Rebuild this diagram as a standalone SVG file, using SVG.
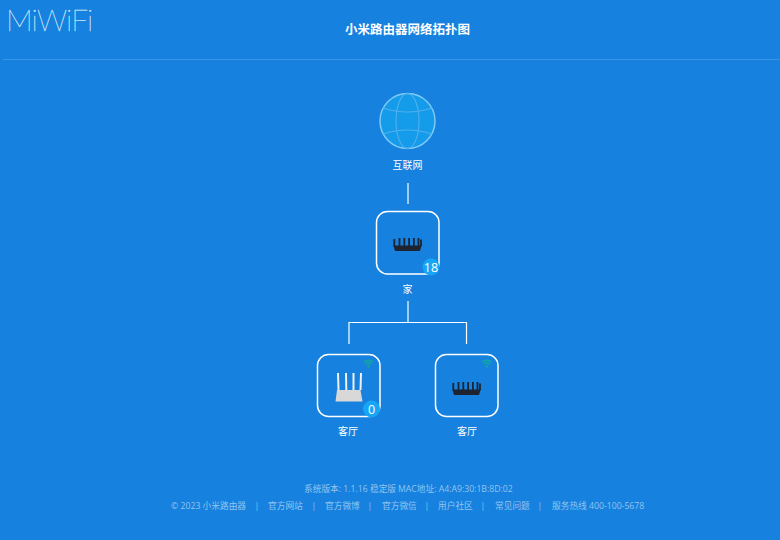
<svg xmlns="http://www.w3.org/2000/svg" width="780" height="540" viewBox="0 0 780 540">
<style>
text{font-family:"Open Sans","Noto Sans CJK SC","Noto Sans",sans-serif}
.lbl{font-size:10px;fill:#fff;text-anchor:middle}
.ft{font-size:8.700px;fill:#93c4f0}
.sep{text-anchor:middle}
.box{fill:none;stroke:#fff;stroke-width:1.5}
.badge{fill:#17a6f5}
.bt{font-size:12.500px;fill:#fff;text-anchor:middle}
.conn{fill:none;stroke:#fff;stroke-width:1.2}
.globe{fill:none;stroke:#50b0ee;stroke-width:1.100}
.wifi{fill:none;stroke:#12a5a8;stroke-width:1.600}
</style>
<defs>
<g id="blackrouter">
<path d="M-14 0H14L12.500 5.500H-12.500Z" fill="#1d2430"/>
<path d="M-13.200 1V-6.500M-8 1V-7.500M-3.200 1V-7.500M1.600 1V-7.500M6.400 1V-7.500M11 1V-7.500M13.500 1V-6" stroke="#1d2430" stroke-width="1.800" fill="none"/>
</g>
<g id="wifiicon">
<path class="wifi" d="M-4.800 -1.800Q0 -5.400 4.800 -1.800"/>
<path class="wifi" d="M-3 0.400Q0 -2.100 3 0.400"/>
<path d="M-1.800 1.800L0 4.200L1.800 1.800Q0 0.600 -1.800 1.800Z" fill="#12a5a8"/>
</g>
</defs>
<rect width="780" height="540" fill="#1681de"/>
<rect x="3" y="59" width="777" height="1" fill="#3a93e3"/>
<g id="logo"><text x="6" y="30.500" style="font-family:Lato,Roboto,sans-serif;font-weight:100;font-size:30px;letter-spacing:-.9px" fill="#d5e9fb" stroke="#d5e9fb" stroke-width=".3">MiWiFi</text></g>
<text id="title" x="407.500" y="34" text-anchor="middle" font-size="12.500" font-weight="700" fill="#fff">小米路由器网络拓扑图</text>
<g id="connectors">
<path class="conn" d="M408 183V204"/>
<path class="conn" d="M408 301V322.500M349 344V322.500H466.500V344"/>
</g>
<g id="internet">
<circle cx="407.500" cy="121" r="27.500" style="fill:#149bea;stroke:#7fcbf6;stroke-width:1.500"/>
<path class="globe" d="M383 108Q407.500 116 432 108M383 134Q407.500 126 432 134"/>
<ellipse class="globe" cx="407.500" cy="121" rx="11.500" ry="27.500"/>
<text class="lbl" x="407.500" y="169">互联网</text>
</g>
<g id="home">
<rect class="box" x="376.500" y="211.500" width="62.500" height="62.500" rx="11"/>
<use href="#blackrouter" x="407.500" y="245.500"/>
<circle class="badge" cx="431" cy="267" r="8.500"/>
<text class="bt" x="431" y="271.500">18</text>
<text class="lbl" x="407.500" y="293">家</text>
</g>
<g id="livingroom1">
<rect class="box" x="317.500" y="354.500" width="62.500" height="62" rx="11"/>
<use href="#wifiicon" x="368.500" y="364"/>
<path d="M337 373H339L339.500 390H337.500ZM345 373H347L347.300 390H345.300ZM352.500 373H354.500L354.500 390H352.500ZM360 373H362L361.500 390H359.500Z" fill="#f0f0f0"/>
<path d="M337 390H360.500L362.500 401.500H335.500Z" fill="#d8d8d8"/>
<circle class="badge" cx="371.500" cy="409" r="8.500"/>
<text class="bt" x="371.500" y="413.500">0</text>
<text class="lbl" x="348" y="435">客厅</text>
</g>
<g id="livingroom2">
<rect class="box" x="435.500" y="354.500" width="62.500" height="62" rx="11"/>
<use href="#wifiicon" x="487" y="364"/>
<use href="#blackrouter" x="466.500" y="389.500"/>
<text class="lbl" x="467" y="435">客厅</text>
</g>
<g id="footer">
<text class="ft" x="304" y="492">系统版本: 1.1.16 稳定版</text>
<text class="ft" x="398" y="492">MAC地址: A4:A9:30:1B:8D:02</text>
<text class="ft" x="171" y="509">© 2023 小米路由器</text>
<text class="ft sep" x="257" y="509">|</text>
<text class="ft" x="268" y="509">官方网站</text>
<text class="ft sep" x="314" y="509">|</text>
<text class="ft" x="325" y="509">官方微博</text>
<text class="ft sep" x="370" y="509">|</text>
<text class="ft" x="382" y="509">官方微信</text>
<text class="ft sep" x="427" y="509">|</text>
<text class="ft" x="438" y="509">用户社区</text>
<text class="ft sep" x="483" y="509">|</text>
<text class="ft" x="495" y="509">常见问题</text>
<text class="ft sep" x="540" y="509">|</text>
<text class="ft" x="552" y="509">服务热线 400-100-5678</text>
</g>
</svg>
